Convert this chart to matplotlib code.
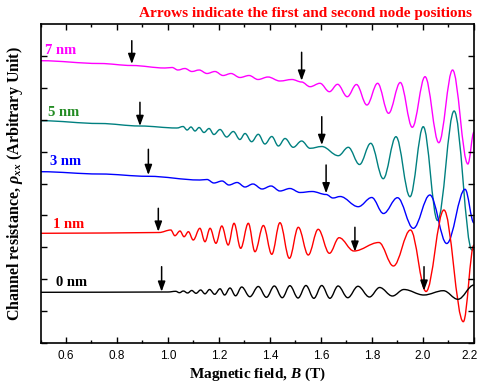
import numpy as np
import matplotlib
matplotlib.use('Agg')
import matplotlib.pyplot as plt
import matplotlib.transforms as mtransforms
from matplotlib.path import Path
from matplotlib.patches import PathPatch

# extrema / turning points (B in T, rho in arb. units)
B_0nm = [0.50, 0.75, 0.98, 1.00, 1.03, 1.045, 1.06, 1.077, 1.093, 1.11, 1.128, 1.145, 1.163,
         1.183, 1.204, 1.222, 1.243, 1.265, 1.289, 1.321, 1.354, 1.386, 1.417,
         1.448, 1.478, 1.51, 1.541, 1.572, 1.603, 1.635, 1.667, 1.705, 1.745,
         1.79, 1.83, 1.88, 1.925, 2.003, 2.08, 2.137, 2.20]
R_0nm = [50.7, 50.8, 51.0, 51.0, 51.7, 50.3, 52.0, 50.0, 52.5, 49.7, 53.0, 49.2, 53.5,
         48.7, 54.2, 48.0, 55.0, 47.2, 56.0, 46.3, 56.5, 45.7, 57.0,
         45.3, 57.3, 45.0, 57.5, 44.7, 57.5, 44.7, 57.0, 45.3, 56.7,
         46.0, 55.5, 47.0, 53.5, 48.0, 52.3, 43.7, 58.0]

B_1nm = [0.50, 0.75, 0.965, 1.011, 1.027, 1.047, 1.063, 1.080, 1.099, 1.125, 1.145, 1.165,
         1.188, 1.211, 1.236, 1.259, 1.285, 1.315, 1.341, 1.374, 1.407, 1.439, 1.476,
         1.511, 1.550, 1.589, 1.633, 1.671, 1.729, 1.827, 1.884, 1.951, 2.012, 2.082,
         2.158, 2.20]
R_1nm = [109.7, 110.0, 110.5, 113.0, 107.3, 112.0, 106.3, 111.3, 103.0, 114.7, 101.3, 114.7,
         99.7, 117.0, 98.0, 119.7, 94.7, 119.7, 91.3, 117.5, 88.7, 120.3, 84.7,
         115.7, 88.0, 113.7, 89.7, 105.3, 92.0, 100.5, 77.0, 113.0, 51.5, 133.0,
         21.3, 98.0]

B_3nm = [0.50, 0.733, 0.922, 1.125, 1.153, 1.180, 1.212, 1.239, 1.271, 1.302, 1.333, 1.369,
         1.404, 1.439, 1.478, 1.518, 1.565, 1.620, 1.647, 1.675, 1.746, 1.799, 1.845,
         1.900, 1.962, 2.027, 2.093, 2.165, 2.20]
R_3nm = [171.3, 169.0, 166.7, 163.0, 163.5, 160.0, 162.0, 158.0, 160.5, 156.0, 159.0, 154.0,
         157.0, 152.0, 154.5, 150.5, 151.5, 148.5, 145.0, 146.5, 136.3, 145.5, 129.5,
         145.3, 114.7, 148.0, 99.5, 153.7, 120.0]

B_5nm = [0.50, 0.733, 0.890, 1.035, 1.059, 1.075, 1.090, 1.106, 1.122, 1.141, 1.161, 1.180,
         1.204, 1.230, 1.256, 1.282, 1.302, 1.328, 1.354, 1.380, 1.407, 1.433, 1.459,
         1.491, 1.524, 1.557, 1.603, 1.668, 1.707, 1.751, 1.795, 1.844, 1.894, 1.949,
         2.001, 2.057, 2.122, 2.192, 2.20]
R_5nm = [222.3, 219.5, 217.0, 215.0, 216.5, 213.0, 216.0, 212.0, 215.5, 210.5, 214.5, 208.5,
         213.5, 206.0, 211.5, 203.5, 209.5, 201.3, 208.7, 199.0, 206.5, 197.0, 204.5,
         195.7, 202.0, 194.7, 196.5, 187.3, 195.7, 178.5, 199.7, 164.3, 206.3, 146.3,
         216.3, 122.5, 232.0, 93.0, 94.0]

B_7nm = [0.50, 0.733, 0.858, 0.988, 1.016, 1.039, 1.066, 1.094, 1.122, 1.153, 1.184, 1.216,
         1.247, 1.282, 1.318, 1.353, 1.392, 1.439, 1.486, 1.524, 1.557, 1.596, 1.633,
         1.665, 1.703, 1.739, 1.780, 1.822, 1.865, 1.911, 1.958, 2.008, 2.062, 2.116,
         2.176, 2.20]
R_7nm = [282.3, 279.5, 277.5, 275.0, 275.5, 273.0, 274.5, 271.5, 273.0, 269.5, 271.5, 267.5,
         269.5, 265.5, 267.5, 263.5, 266.0, 262.0, 263.5, 261.0, 256.3, 259.7, 251.3,
         258.7, 246.3, 258.5, 238.0, 259.7, 229.7, 260.5, 215.7, 266.3, 200.3, 273.0,
         179.0, 211.0]

# node arrows: position, tip, tail
arrow_B = [0.858, 1.524, 0.890, 1.603, 0.923, 1.620, 0.962, 1.733, 0.975, 2.004]
arrow_tip = [279.0, 262.3, 217.0, 198.0, 168.0, 149.7, 111.3, 91.3, 51.3, 52.3]
arrow_tail = [302.3, 290.7, 240.7, 226.3, 193.7, 178.0, 134.7, 115.7, 76.3, 76.3]

labels = ['7 nm', '5 nm', '3 nm', '1 nm', '0 nm']
label_B = [0.518, 0.529, 0.537, 0.549, 0.561]
label_R = [292.3, 230.3, 181.3, 119.0, 61.0]
label_colors = ['#FF00FF', '#228B22', '#0000FF', '#FF0000', 'black']

plt.rcParams['font.family'] = 'Liberation Serif'
plt.rcParams['mathtext.fontset'] = 'custom'
plt.rcParams['mathtext.rm'] = 'Liberation Serif:bold'
plt.rcParams['mathtext.it'] = 'Liberation Serif:bold:italic'
plt.rcParams['mathtext.bf'] = 'Liberation Serif:bold'


def smooth_curve(ax, xs, ys, color):
    # cubic bezier through the read points, flat tangent at each point
    verts = [(xs[0], ys[0])]
    codes = [Path.MOVETO]
    for i in range(len(xs) - 1):
        dx = xs[i + 1] - xs[i]
        verts += [(xs[i] + 0.364 * dx, ys[i]), (xs[i + 1] - 0.364 * dx, ys[i + 1]),
                  (xs[i + 1], ys[i + 1])]
        codes += [Path.CURVE4] * 3
    ax.add_patch(PathPatch(Path(verts, codes), facecolor='none', edgecolor=color, lw=1.0))


fig = plt.figure(figsize=(4.8, 3.87), dpi=100)
ax = fig.add_axes([40.5 / 480, 44 / 387, 433.5 / 480, 319 / 387])

smooth_curve(ax, B_7nm, R_7nm, '#FF00FF')
smooth_curve(ax, B_5nm, R_5nm, '#008080')
smooth_curve(ax, B_3nm, R_3nm, '#0000FF')
smooth_curve(ax, B_1nm, R_1nm, '#FF0000')
smooth_curve(ax, B_0nm, R_0nm, 'black')

for b, tip, tail in zip(arrow_B, arrow_tip, arrow_tail):
    ax.annotate('', xy=(b, tip), xytext=(b, tail),
                arrowprops=dict(arrowstyle='-|>,head_length=0.6,head_width=0.22',
                                color='black', lw=1.1, shrinkA=0, shrinkB=0))

for txt, b, r, c in zip(labels, label_B, label_R, label_colors):
    ax.text(b, r, txt, color=c, fontsize=10.5, fontweight='bold', ha='left', va='center')

ax.set_xlim(0.5, 2.2)
ax.set_ylim(0, 319)
ax.set_xticks(np.arange(0.6, 2.21, 0.2))
ax.set_xticks(np.arange(0.5, 2.21, 0.1), minor=True)
ax.set_xticklabels(['%.1f' % v for v in np.arange(0.6, 2.21, 0.2)], fontfamily='Liberation Sans')
ax.set_yticks(np.arange(0, 319, 31.9))
ax.set_yticklabels([])
ax.tick_params(which='both', direction='in', top=True, right=True, width=1, labelsize=8.5)
ax.tick_params(which='major', length=4, pad=5)
ax.tick_params(which='minor', length=2)
for s in ax.spines.values():
    s.set_linewidth(1.2)

# last label sits on the figure edge; nudge it in a little
last = ax.get_xticklabels()[-1]
last.set_transform(last.get_transform() +
                   mtransforms.ScaledTranslation(-4 / 100, 0, fig.dpi_scale_trans))

ax.set_xlabel(r'Magnetic field, $B$ (T)', fontsize=11, fontweight='bold', labelpad=3)
ax.set_ylabel(r'Channel resistance, $\rho_{xx}$ (Arbitrary Unit)', fontsize=11.5,
              fontweight='bold', labelpad=6)

fig.text(472 / 480, 1 - 13 / 387, 'Arrows indicate the first and second node positions',
         color='#FF0000', fontsize=11, fontweight='bold', ha='right', va='center')

fig.savefig('out.png', dpi=100)
